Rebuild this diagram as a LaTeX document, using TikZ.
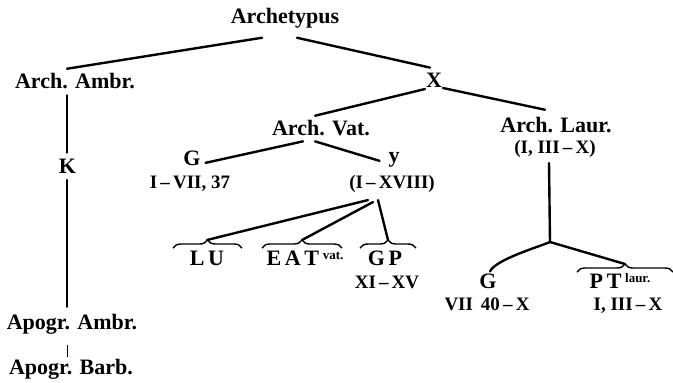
\documentclass[tikz,border=0pt]{standalone}
\usepackage{fontspec}
\setmainfont{Liberation Serif}
\usetikzlibrary{decorations.pathreplacing}
\newcommand{\sigl}[1]{\raisebox{2.6pt}{\fontsize{6.5}{7}\selectfont #1}}

\begin{document}
\begin{tikzpicture}[x=0.5pt,y=-0.5pt,
  every node/.style={inner sep=0pt, outer sep=0pt, anchor=base, font=\bfseries\fontsize{11}{12}\selectfont},
  small/.style={font=\bfseries\fontsize{9.5}{10}\selectfont},
  stem/.style={line width=1.2pt, line cap=round},
  thinstem/.style={line width=0.5pt},
  brk/.style={decorate, decoration={brace, amplitude=4pt}, line width=0.7pt}]
\useasboundingbox (0,0) rectangle (673,382);

\node (arch) at (285,23) {Archetypus};
\node (ambr) at (75,88) {Arch. Ambr.};
\node (k) at (67.5,173) {K};
\node (apambr) at (72,329) {Apogr. Ambr.};
\node (apbarb) at (71,374) {Apogr. Barb.};

\node (x) at (434,87) {X};
\node (vat) at (321,135) {Arch. Vat.};
\node (laur) at (556,132) {Arch. Laur.};
\node[small] (laurr) at (555,153) {(I, III\,--\,X)};

\node (gv) at (192,165) {G};
\node[small] (gvr) at (190,188) {I\,--\,VII, 37};
\node (y) at (394,162) {y};
\node[small] (yr) at (392,188) {(I\,--\,XVIII)};

\node (lu) at (207,265) {L\,U};
\node (eat) at (305,265) {E\,A\,T\,\sigl{vat.}};
\node (gp) at (385,265) {G\,P};
\node[small] (gpr) at (387,288) {XI\,--\,XV};

\node (gl) at (488,288) {G};
\node[small] (glr) at (487,310) {VII\, 40\,--\,X};
\node (pt) at (620,288) {P\,T\,\sigl{laur.}};
\node[small] (ptr) at (628,310) {I, III\,--\,X};

\coordinate (fork) at (550,242);
\coordinate (luTip) at ([shift={(0,-25)}]lu.base);
\coordinate (eatTip) at ([shift={(-3,-25)}]eat.base);
\coordinate (gpTip) at ([shift={(3,-25)}]gp.base);
\coordinate (ptTip) at ([shift={(5,-24)}]pt.base);

\draw[brk] ([shift={(-34,-17)}]lu.base) -- ([shift={(35,-17)}]lu.base);
\draw[brk] ([shift={(-43,-17)}]eat.base) -- ([shift={(37,-17)}]eat.base);
\draw[brk] ([shift={(-25,-17)}]gp.base) -- ([shift={(31,-17)}]gp.base);
\draw[brk] ([shift={(-43,-16)}]pt.base) -- ([shift={(53,-16)}]pt.base);

\draw[stem] ([shift={(-23,10)}]arch.south) -- ([shift={(-8,-4)}]ambr.north);
\draw[stem] ([shift={(12,10)}]arch.south) -- ([shift={(-4,-5)}]x.north);
\draw[stem] ([shift={(-8,7)}]ambr.south) -- ([shift={(-0.5,-6)}]k.north);
\draw[stem] ([shift={(-0.5,7)}]k.south) -- ([shift={(-5,-7)}]apambr.north);
\draw[thinstem] ([shift={(-5,11)}]apambr.south) -- ([shift={(-4,-2)}]apbarb.north);

\draw[stem] ([shift={(-9,2)}]x.south) -- ([shift={(-6,-4)}]vat.north);
\draw[stem] ([shift={(9,1)}]x.south) -- ([shift={(-11,-7)}]laur.north);
\draw[stem] ([shift={(-18,6)}]vat.south) -- ([shift={(5,5)}]gv.east);
\draw[stem] ([shift={(-6,6)}]vat.south) -- ([shift={(-9,1.5)}]y.west);

\draw[stem] ([shift={(-24,8)}]yr.south) -- (luTip);
\draw[stem] ([shift={(-19,10)}]yr.south) -- (eatTip);
\draw[stem] ([shift={(-14,8)}]yr.south) -- (gpTip);

\draw[stem] ([shift={(-6,6)}]laurr.south) -- (fork);
\draw[stem] (fork) to[out=203,in=65,looseness=0.5] ([shift={(2,-2)}]gl.north);
\draw[stem] (fork) -- (ptTip);
\end{tikzpicture}
\end{document}
